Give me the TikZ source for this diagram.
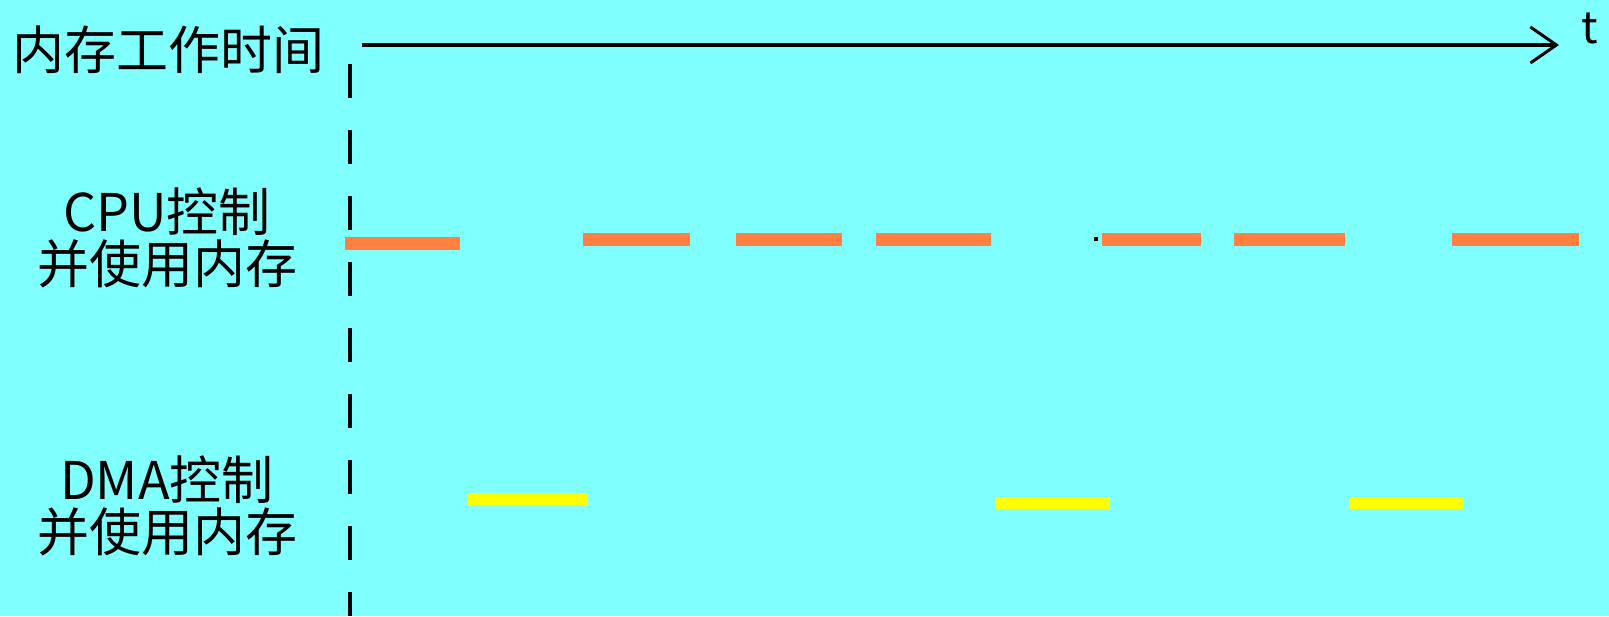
\documentclass[tikz,border=0pt]{standalone}
\usepackage{fontspec}
\setmainfont{Noto Sans CJK SC}
\usetikzlibrary{arrows.meta}
\definecolor{memcyan}{HTML}{80FFFF}
\definecolor{cpuorange}{HTML}{FF8040}
\definecolor{dmayellow}{HTML}{FFFF00}

\begin{document}
\begin{tikzpicture}[x=0.5pt, y=-0.5pt,
    lbl/.style={font=\fontsize{26}{26}\selectfont, align=center, inner sep=0pt}]
    \fill[memcyan] (0,0) rectangle (1609,616);
    \useasboundingbox (0,0) rectangle (1609,616);

    % time axis
    \coordinate (tstart) at (362,45);
    \coordinate (tend) at (1559,45);
    \draw[line width=2pt, -{Straight Barb[length=13pt, width=18pt, line width=1.5pt]}] (tstart) -- (tend);
    \node[lbl, font=\fontsize{22}{24}\selectfont] (tlabel) at (1590,28) {t};
    \node[lbl] (memtime) at (168,50) {内存工作时间};

    % start of time
    \coordinate (dtop) at (350,64);
    \coordinate (dbot) at (350,616);
    \draw[line width=2pt, dash pattern=on 17pt off 16pt] (dtop) -- (dbot);

    % CPU uses memory
    \node[lbl] (cpuuse) at (167,238) {CPU控制\\并使用内存};
    \fill[cpuorange] (345,237) rectangle (460,250);
    \foreach \a/\b in {583/690, 736/842, 876/991, 1102/1201, 1234/1345, 1452/1579} {
        \fill[cpuorange] (\a,233) rectangle (\b,246);
    }
    \fill[black] (1094,237) rectangle (1098,241);

    % DMA uses memory
    \node[lbl] (dmause) at (167,506) {DMA控制\\并使用内存};
    \fill[dmayellow] (468,493) rectangle (588,505);
    \foreach \a/\b in {995/1110, 1349/1464} {
        \fill[dmayellow] (\a,497) rectangle (\b,509);
    }
\end{tikzpicture}
\end{document}
